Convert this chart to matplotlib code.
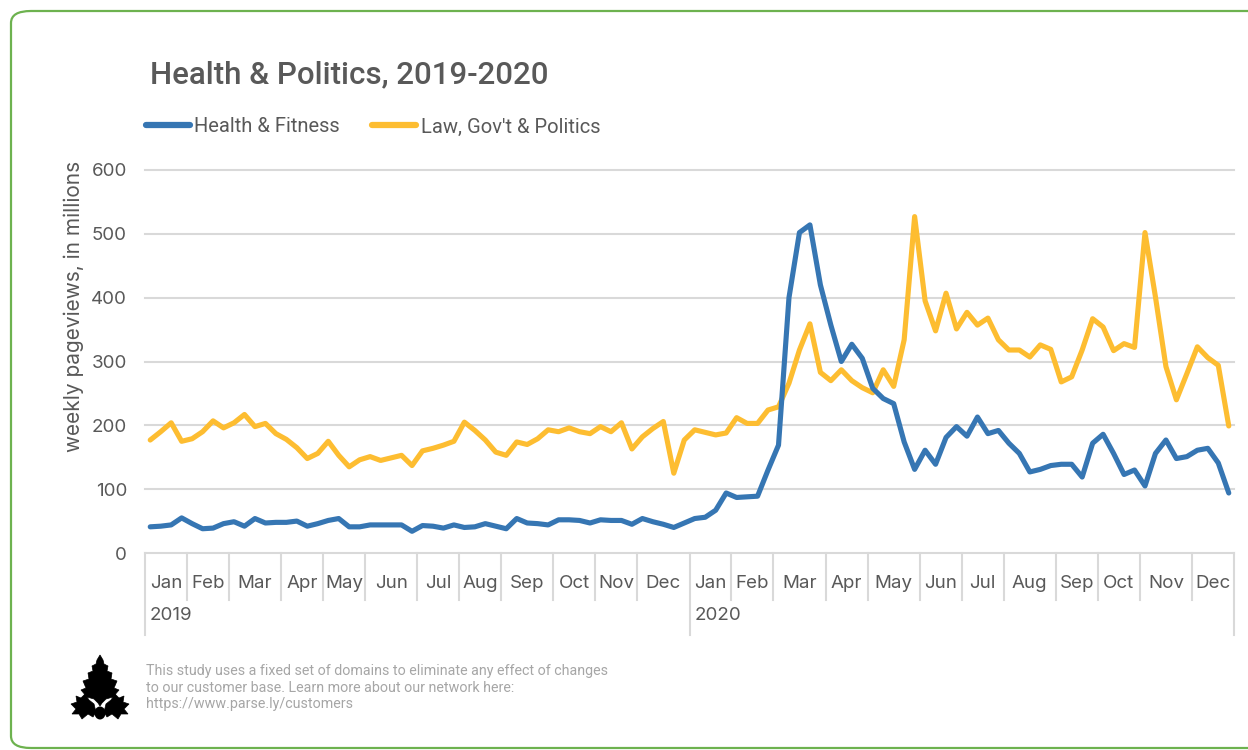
import matplotlib
matplotlib.use("Agg")
import matplotlib.pyplot as plt
import matplotlib.transforms as mtransforms
from matplotlib.patches import FancyBboxPatch, Polygon, Ellipse
import numpy as np

# ---------------- data ----------------
title = "Health & Politics, 2019-2020"
series_names = ["Health & Fitness", "Law, Gov't & Politics"]
series_colors = ["#3676b3", "#fdbd31"]

health = [41, 42, 44, 55, 46, 38, 39, 46, 49, 42, 54, 47, 48, 48, 50, 42, 46, 51, 54, 41,
          41, 44, 44, 44, 44, 34, 43, 42, 39, 44, 40, 41, 46, 42, 38, 54, 47, 46, 44, 52,
          52, 51, 47, 52, 51, 51, 45, 54, 49, 45, 40, 47, 54, 56, 67, 94, 87, 88, 89, 130,
          169, 400, 502, 514, 420, 357, 300, 327, 305, 258, 242, 234, 174, 131, 161, 139, 181, 198, 183, 213,
          187, 192, 172, 156, 127, 131, 137, 139, 139, 119, 172, 186, 156, 123, 130, 105, 156, 177, 148, 151,
          161, 164, 141, 94]

law = [177, 190, 204, 175, 179, 190, 207, 196, 204, 217, 198, 203, 187, 178, 165, 148, 156, 175, 153, 135,
       146, 151, 145, 149, 153, 137, 160, 164, 169, 175, 205, 192, 177, 158, 153, 174, 170, 179, 193, 190,
       196, 190, 187, 198, 190, 204, 163, 182, 195, 206, 125, 177, 193, 189, 185, 188, 212, 203, 203, 224,
       229, 266, 318, 359, 283, 270, 287, 270, 259, 251, 287, 261, 334, 527, 395, 348, 407, 351, 377, 357,
       368, 334, 318, 318, 307, 326, 319, 268, 276, 318, 367, 354, 317, 328, 322, 502, 401, 292, 240, 281,
       323, 306, 294, 199]

months = ["Jan", "Feb", "Mar", "Apr", "May", "Jun", "Jul", "Aug", "Sep", "Oct", "Nov", "Dec"]
weeks_2019 = [4, 4, 5, 4, 4, 5, 4, 4, 5, 4, 4, 5]
weeks_2020 = [4, 4, 5, 4, 5, 4, 4, 5, 4, 4, 5, 4]
years = ["2019", "2020"]
yticks = [0, 100, 200, 300, 400, 500, 600]
ylabel = "weekly pageviews, in millions"
footer_lines = ["This study uses a fixed set of domains to eliminate any effect of changes",
                "to our customer base. Learn more about our network here:",
                "https://www.parse.ly/customers"]

# ---------------- figure ----------------
W, H = 1248, 750
fig = plt.figure(figsize=(W / 100, H / 100), dpi=100)
fig.patch.set_facecolor("white")

def fx(x):
    return x / W

def fy(y):
    return 1 - y / H

TXT = "#595959"
GRID = "#d9d9d9"

# green rounded border
border = FancyBboxPatch((fx(11), fy(748)), fx(1300) - fx(11), fy(11) - fy(748),
                        boxstyle="round,pad=0,rounding_size=0.016",
                        transform=fig.transFigure, facecolor="none",
                        edgecolor="#6db24f", linewidth=1.6, clip_on=False)
fig.patches.append(border)

ax_l, ax_r, ax_t, ax_b = 145, 1234, 170, 553
ax = fig.add_axes([fx(ax_l), fy(ax_b), fx(ax_r) - fx(ax_l), fy(ax_t) - fy(ax_b)])
n = len(health)
x = np.arange(n) + 0.5
ax.set_xlim(0, n)
ax.set_ylim(0, 600)
for s in ax.spines.values():
    s.set_visible(False)
ax.set_yticks(yticks)
ax.set_yticklabels([str(v) for v in yticks], fontsize=13.5, color=TXT, family="Inter")
ax.tick_params(axis="y", length=0, pad=13)
ax.set_xticks([])
ax.yaxis.grid(True, color=GRID, linewidth=1.5)
ax.set_axisbelow(True)
for gl in ax.get_ygridlines():
    gl.set_clip_on(False)

l1, = ax.plot(x, health, color=series_colors[0], lw=3.7, solid_joinstyle="round",
              solid_capstyle="round", clip_on=False, zorder=3, label=series_names[0])
l2, = ax.plot(x, law, color=series_colors[1], lw=3.7, solid_joinstyle="round",
              solid_capstyle="round", clip_on=False, zorder=2, label=series_names[1])

# x axis: month / year category labels
trans = mtransforms.blended_transform_factory(ax.transData, ax.transAxes)
ah = ax_b - ax_t
all_weeks = weeks_2019 + weeks_2020
bounds = np.concatenate([[0], np.cumsum(all_weeks)])
year_bounds = [0, sum(weeks_2019), sum(weeks_2019) + sum(weeks_2020)]
for b in bounds:
    depth = 82 if b in year_bounds else 47
    ax.plot([b, b], [0, -depth / ah], transform=trans, color=GRID, lw=1.5, clip_on=False)
for k, wk in enumerate(all_weeks):
    c = (bounds[k] + bounds[k + 1]) / 2
    ax.text(c, -(584 - ax_b) / ah, months[k % 12], transform=trans, ha="center", va="center",
            fontsize=13.5, color=TXT, family="Inter")
for j, yr in enumerate(years):
    ax.text(year_bounds[j] + 0.45, -(616 - ax_b) / ah, yr, transform=trans, ha="left", va="center",
            fontsize=13.5, color=TXT, family="Inter")

# y label
fig.text(fx(74), fy(161), ylabel, rotation=90, ha="center", va="top", fontsize=15,
         color=TXT, family="Inter")

# title
fig.text(fx(150), fy(75), title, ha="left", va="center", fontsize=22.5, fontweight="medium",
         color=TXT, family="Roboto")

# legend
leg = fig.legend(handles=[l1, l2], loc="center left", bbox_to_anchor=(fx(146), fy(127)),
                 ncol=2, frameon=False, handlelength=2.2, handletextpad=0.2,
                 columnspacing=1.6, borderpad=0, borderaxespad=0,
                 prop={"family": "Roboto", "size": 14.5})
for t in leg.get_texts():
    t.set_color(TXT)
for h in leg.legend_handles:
    h.set_linewidth(4.5)
    h.set_solid_capstyle("round")

# footer text
for i, line in enumerate(footer_lines):
    fig.text(fx(146), fy(671 + i * 16.5), line, ha="left", va="center", fontsize=10.3,
             color="#a6a6a6", family="Roboto")

# logo (parse.ly leaf, approximate)
lax = fig.add_axes([fx(60), fy(725), fx(140) - fx(60), fy(650) - fy(725)])
lax.set_xlim(60, 140)
lax.set_ylim(725, 650)
lax.axis("off")
half = [(100, 655), (103, 660), (104, 664), (108, 666), (107, 671), (112, 673), (111, 679),
        (117, 681), (114, 688), (119, 690), (113, 697), (106, 699), (102, 703), (100, 706)]
main = half + [(200 - px, py) for px, py in reversed(half[:-1])]
lax.add_patch(Polygon(main, closed=True, facecolor="black", edgecolor="black", lw=0.5))
side = [(104, 712), (106, 704), (111, 700), (115, 694), (119, 698), (124, 696), (123, 702),
        (129, 704), (124, 709), (128, 714), (121, 714), (118, 719), (112, 714), (107, 717)]
lax.add_patch(Polygon(side, closed=True, facecolor="black", edgecolor="black", lw=0.5))
lax.add_patch(Polygon([(200 - px, py) for px, py in side], closed=True, facecolor="black",
                      edgecolor="black", lw=0.5))
lax.add_patch(Ellipse((100, 713), 11, 13, facecolor="black"))

fig.savefig("out.png", dpi=100, facecolor="white")
